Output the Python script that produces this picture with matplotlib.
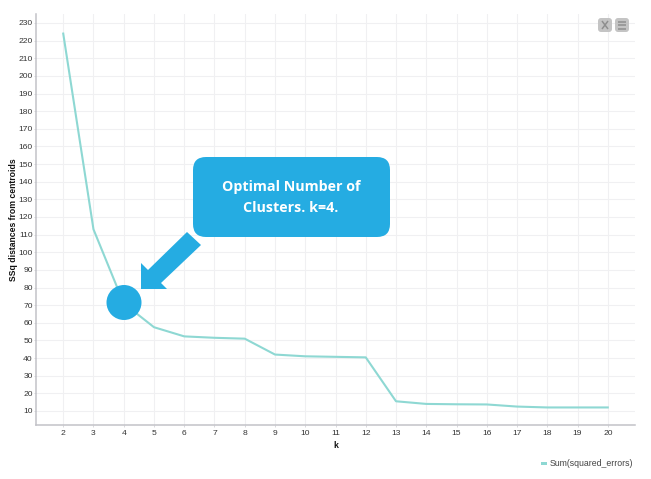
import matplotlib
matplotlib.use("Agg")
import matplotlib.pyplot as plt
from matplotlib.patches import Ellipse, FancyBboxPatch, Polygon, Rectangle
from matplotlib.transforms import Affine2D

k_values = list(range(2, 21))
sum_squared_errors = [224, 113, 71, 57.5, 52.3, 51.5, 51, 42, 41, 40.7, 40.4,
                      15.5, 14, 13.8, 13.7, 12.5, 12, 12, 12]
y_ticks = list(range(10, 240, 10))

W, H = 651, 479
LINE = "#8ed8d3"
BLUE = "#25ace2"
ICON = "#c4c4c4"


def fx(x):
    return x / W


def fy(y):
    return 1 - y / H


def pts(*xy):
    return [(fx(x), fy(y)) for x, y in xy]


plt.rcParams["font.family"] = ["Liberation Sans", "DejaVu Sans"]

fig = plt.figure(figsize=(W / 100, H / 100), dpi=100)
ax = fig.add_axes([fx(36), fy(425), fx(635 - 36), (425 - 14) / H])

ax.plot(k_values, sum_squared_errors, color=LINE, lw=1.5, solid_joinstyle="round")

ax.set_xlim(1.1, 20.9)
ax.set_ylim(2.05, 235.1)
ax.set_xticks(k_values)
ax.set_yticks(y_ticks)
ax.grid(True, color="#f0f0f2", lw=0.8)
ax.set_axisbelow(True)
ax.tick_params(length=1.5, width=0.7, color="#d8d8dc", labelsize=6.1, labelcolor="#333333", pad=0.8)
ax.tick_params(axis="x", pad=1.8)

for side in ["top", "right"]:
    ax.spines[side].set_visible(False)
for side in ["left", "bottom"]:
    ax.spines[side].set_color("#c2c2c8")
    ax.spines[side].set_linewidth(1.1)

fig.text(fx(336), fy(445.5), "k", fontsize=6.2, fontweight="bold", color="#111111", ha="center", va="center")
fig.text(fx(13.5), fy(220), "SSq distances from centroids", fontsize=6.2, fontweight="bold", color="#111111",
         rotation=90, ha="center", va="center")

# pixel coordinates with y going up, for the rounded boxes
px = Affine2D().scale(1 / W, 1 / H) + fig.transFigure

# callout
fig.add_artist(FancyBboxPatch((193 + 13, H - 237 + 13), 197 - 26, 80 - 26,
                              boxstyle="round,pad=13,rounding_size=13",
                              fc=BLUE, ec="none", transform=px, zorder=3))
fig.text(fx(291), fy(187), "Optimal Number of", color="white", fontsize=10.3, fontweight="bold",
         family="Open Sans", ha="center", va="center", zorder=4)
fig.text(fx(291), fy(208), "Clusters. k=4.", color="white", fontsize=10.3, fontweight="bold",
         family="Open Sans", ha="center", va="center", zorder=4)

# arrow and circle
fig.add_artist(Polygon(pts((187, 232), (201, 245), (161, 283), (167, 289), (141, 289), (141, 263), (148, 270)),
                       closed=True, fc=BLUE, ec="none", zorder=3))
fig.add_artist(Ellipse((fx(124), fy(302.5)), 35 / W, 35 / H, fc=BLUE, ec="none", zorder=3))

# toolbar icons
for left in [598, 615]:
    fig.add_artist(FancyBboxPatch((left + 3, H - 32 + 3), 8, 8, boxstyle="round,pad=3,rounding_size=3",
                                  fc=ICON, ec="none", transform=px, zorder=3))
for y in [21.5, 25, 28.5]:
    fig.add_artist(Polygon(pts((618, y), (626, y)), closed=False, fc="none", ec="#8f8f8f", lw=1.1, zorder=4))
for (x0, y0, x1, y1) in [(602, 21, 608, 29), (602, 29, 608, 21)]:
    fig.add_artist(Polygon(pts((x0, y0), (x1, y1)), closed=False, fc="none", ec="#8f8f8f", lw=1.1, zorder=4))

# legend
fig.add_artist(Rectangle((fx(540.5), fy(465)), 6 / W, 3.5 / H, fc=LINE, ec="none", zorder=3))
fig.text(fx(550), fy(463.5), "Sum(squared_errors)", fontsize=6.3, color="#444444", ha="left", va="center")

fig.savefig("out.png", dpi=100)
